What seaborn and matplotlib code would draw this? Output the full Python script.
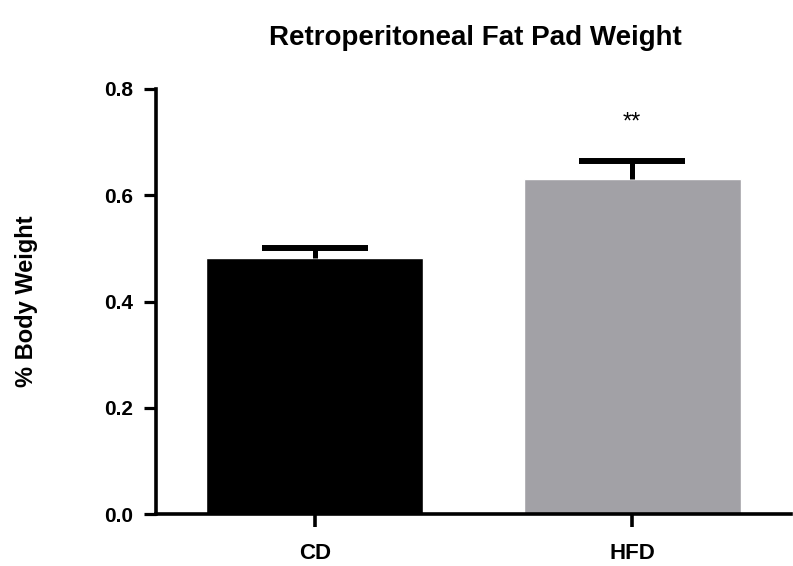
import matplotlib
matplotlib.use("Agg")
import matplotlib.pyplot as plt
import seaborn as sns
import numpy as np
import pandas as pd

# ---- data ----
groups = ["CD", "HFD"]
means = [0.482, 0.631]
sems = [0.018, 0.033]
colors = ["#000000", "#a2a1a6"]
yticks = [0.0, 0.2, 0.4, 0.6, 0.8]
ytick_labels = ["0.0", "0.2", "0.4", "0.6", "0.8"]
title = "Retroperitoneal Fat Pad Weight"
ylabel = "% Body Weight"
sig_label = "**"

sns.set_style("ticks")
plt.rcParams["font.family"] = ["Liberation Sans", "DejaVu Sans"]
plt.rcParams["text.color"] = "black"
plt.rcParams["axes.labelcolor"] = "black"
plt.rcParams["xtick.color"] = "black"
plt.rcParams["ytick.color"] = "black"
plt.rcParams["axes.edgecolor"] = "black"

df = pd.DataFrame({"group": groups, "mean": means})

fig = plt.figure(figsize=(7.93, 5.66), dpi=100)
ax = fig.add_axes([156 / 793, 1 - 514 / 566, 635 / 793, (514 - 89) / 566])

sns.barplot(data=df, x="group", y="mean", hue="group", palette=colors,
            legend=False, width=0.684, errorbar=None, saturation=1,
            ax=ax, zorder=2)

eb = ax.errorbar(x=[0, 1], y=means, yerr=[[0, 0], sems], fmt="none",
                 ecolor="black", elinewidth=3.6, capsize=38, capthick=4.3,
                 zorder=3)
# show only the upper caps (one-sided SEM bars)
for cap in eb[1]:
    if np.allclose(cap.get_ydata(), means):
        cap.set_visible(False)

ax.set_ylim(0, 0.8)
ax.set_xlim(-0.5, 1.5)
ax.set_yticks(yticks)
ax.set_yticklabels(ytick_labels)
ax.set_xlabel("")
ax.set_ylabel(ylabel, fontsize=17, fontweight="bold")
ax.yaxis.set_label_coords(-0.186, 0.5)

sns.despine(ax=ax)
for side in ["left", "bottom"]:
    ax.spines[side].set_linewidth(2.6)
    ax.spines[side].set_color("black")
ax.tick_params(axis="y", direction="out", length=8.5, width=2.3,
               labelsize=15, pad=8, colors="black")
ax.tick_params(axis="x", direction="out", length=9, width=2.6,
               labelsize=16, pad=12, colors="black")
for lab in ax.get_xticklabels() + ax.get_yticklabels():
    lab.set_fontweight("bold")

ax.text(1, 0.736, sig_label, ha="center", va="center", fontsize=17)

fig.text(475 / 793, 1 - 45 / 566, title, ha="center", va="baseline",
         fontsize=20, fontweight="bold")

fig.savefig("out.png", dpi=100)
